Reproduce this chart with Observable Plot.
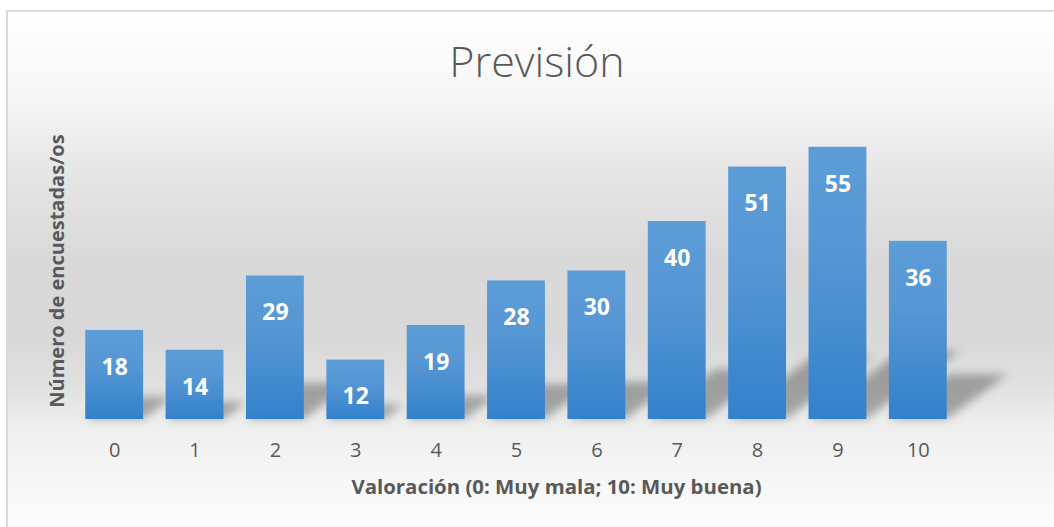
<!DOCTYPE html>
<html><head><meta charset="utf-8">
<script src="https://cdn.jsdelivr.net/npm/d3@7"></script>
<script src="https://cdn.jsdelivr.net/npm/@observablehq/plot@0.6"></script>
<style>
html,body{margin:0;padding:0;width:1054px;height:527px;overflow:hidden;background:#fff;}
#bg{position:absolute;left:6px;top:10px;width:1100px;height:560px;box-sizing:border-box;border:2px solid #d9d9d9;
background:linear-gradient(to bottom,#ffffff 0px,#f6f6f6 85px,#e5e5e5 165px,#d9d9d9 245px,#d8d8d8 325px,#e1e1e1 375px,#eeeeee 412px,#f4f4f4 450px,#fcfcfc 515px);}
#title{position:absolute;left:0;top:32px;width:1074px;text-align:center;font-family:"Open Sans",sans-serif;font-weight:300;font-size:43px;line-height:58px;color:#595959;}
#chart{position:absolute;left:0;top:0;}
</style></head>
<body>
<div id="bg"></div>
<div id="title">Previsión</div>
<div id="chart"></div>
<script>
const categories = ["0","1","2","3","4","5","6","7","8","9","10"];
const counts = [18,14,29,12,19,28,30,40,51,55,36];
const xTitle = "Valoración (0: Muy mala; 10: Muy buena)";
const yTitle = "Número de encuestadas/os";
const data = categories.map((c,i)=>({cat:c, n:counts[i]}));

const chart = Plot.plot({
  width:1054, height:527,
  marginLeft:74, marginRight:96, marginTop:122, marginBottom:108,
  style:{background:"transparent", fontFamily:"'Open Sans', sans-serif", fontSize:"20px", color:"#595959", overflow:"visible"},
  x:{domain:categories, paddingInner:0.28, paddingOuter:0.14, round:false, label:null, tickSize:0, tickPadding:23},
  y:{domain:[0,60], axis:null},
  marks:[
    Plot.barY(data,{x:"cat", y:"n", fill:"#000", fillOpacity:0.3}),
    Plot.barY(data,{x:"cat", y:"n", fill:"url(#barGrad)"}),
    Plot.text(data,{x:"cat", y:"n", text:d=>String(d.n), dy:37, fill:"white", fontSize:23, fontWeight:"bold"}),
    Plot.text([xTitle],{text:d=>d, frameAnchor:"bottom", dy:74, dx:40, fill:"#595959", fontSize:20.4, fontWeight:"bold"}),
    Plot.text([yTitle],{text:d=>d, frameAnchor:"left", textAnchor:"middle", rotate:-90, dx:-17, fill:"#595959", fontSize:20, fontWeight:"bold"})
  ]
});

const svg = d3.select(chart.tagName === "svg" ? chart : chart.querySelector("svg"));
const defs = svg.insert("defs", ":first-child");
const grad = defs.append("linearGradient").attr("id","barGrad").attr("x1",0).attr("y1",0).attr("x2",0).attr("y2",1);
grad.append("stop").attr("offset","0%").attr("stop-color","#5d9dd7");
grad.append("stop").attr("offset","40%").attr("stop-color","#5596d4");
grad.append("stop").attr("offset","100%").attr("stop-color","#3381cc");
const filt = defs.append("filter").attr("id","shadowBlur").attr("filterUnits","userSpaceOnUse")
  .attr("x",0).attr("y",0).attr("width",1054).attr("height",527);
filt.append("feGaussianBlur").attr("stdDeviation",5);

const base = chart.scale("y").apply(0);
const bars = svg.selectAll('g[aria-label="bar"]').nodes();
if (bars.length) {
  const sh = bars[0];
  const outer = document.createElementNS("http://www.w3.org/2000/svg","g");
  const inner = document.createElementNS("http://www.w3.org/2000/svg","g");
  sh.parentNode.insertBefore(outer, sh);
  outer.appendChild(inner);
  inner.appendChild(sh);
  d3.select(inner).attr("transform", `translate(0,${base}) matrix(1,0,-0.34,0.25,0,0) translate(0,${-base})`);
  d3.select(outer).attr("filter","url(#shadowBlur)");
}
document.getElementById("chart").appendChild(chart);
</script>
</body></html>
